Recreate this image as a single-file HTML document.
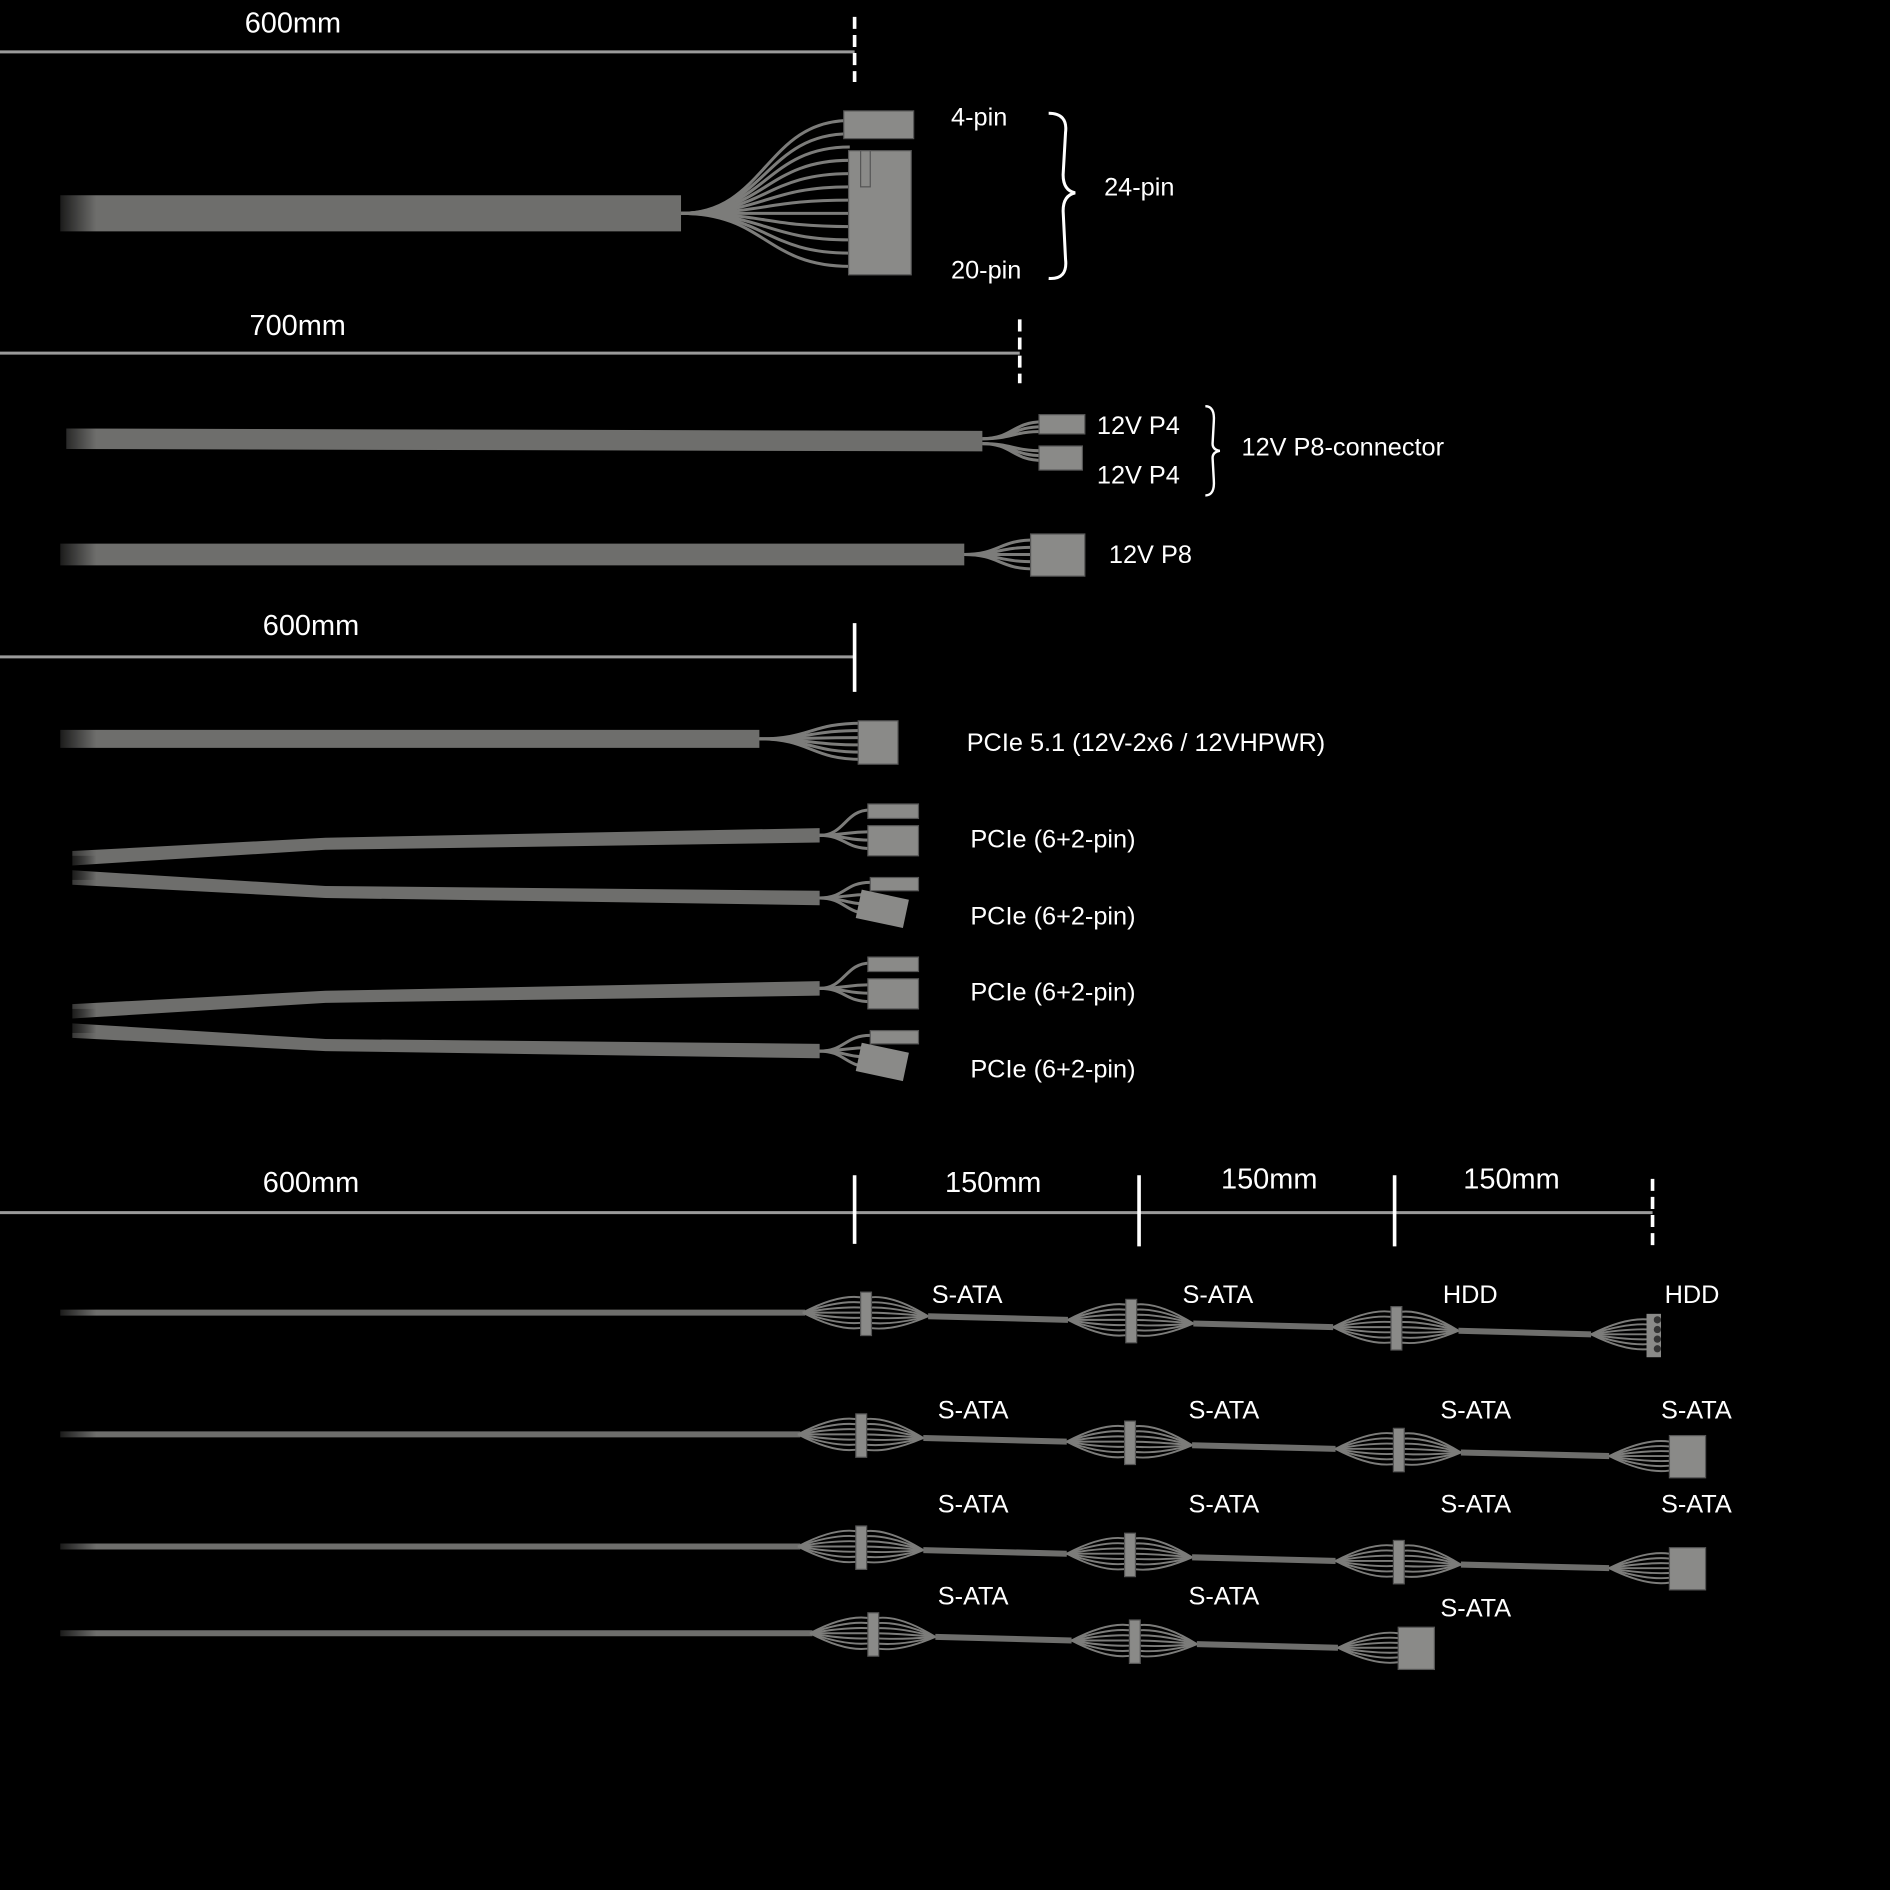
<!DOCTYPE html>
<html><head><meta charset="utf-8"><style>
html,body{margin:0;padding:0;background:#000;}
svg{display:block}
text{font-family:"Liberation Sans",sans-serif;fill:#fff;}
</style></head><body>
<svg id="s" width="1890" height="1890" viewBox="0 0 1568 1568" xmlns="http://www.w3.org/2000/svg">
<defs>
<linearGradient id="fade" x1="0" x2="1" y1="0" y2="0">
<stop offset="0" stop-color="#000" stop-opacity="1"/><stop offset="1" stop-color="#000" stop-opacity="0"/>
</linearGradient>
</defs>
<g id="g"></g>
<g font-size="24">
<text x="203" y="27">600mm</text>
<text x="207" y="278">700mm</text>
<text x="218" y="527">600mm</text>
<text x="218" y="989">600mm</text>
<text x="784" y="989">150mm</text>
<text x="1013" y="986">150mm</text>
<text x="1214" y="986">150mm</text>
</g>
<g font-size="21">
<text x="789" y="104">4-pin</text>
<text x="789" y="231">20-pin</text>
<text x="916" y="162">24-pin</text>
<text x="910" y="360">12V P4</text>
<text x="910" y="401">12V P4</text>
<text x="1030" y="378">12V P8-connector</text>
<text x="920" y="467">12V P8</text>
<text x="802" y="623">PCIe 5.1 (12V-2x6 / 12VHPWR)</text>
<text x="805" y="703">PCIe (6+2-pin)</text>
<text x="805" y="767">PCIe (6+2-pin)</text>
<text x="805" y="830">PCIe (6+2-pin)</text>
<text x="805" y="894">PCIe (6+2-pin)</text>
<text x="773" y="1081">S-ATA</text><text x="981" y="1081">S-ATA</text><text x="1197" y="1081">HDD</text><text x="1381" y="1081">HDD</text>
<text x="778" y="1177">S-ATA</text><text x="986" y="1177">S-ATA</text><text x="1195" y="1177">S-ATA</text><text x="1378" y="1177">S-ATA</text>
<text x="778" y="1255">S-ATA</text><text x="986" y="1255">S-ATA</text><text x="1195" y="1255">S-ATA</text><text x="1378" y="1255">S-ATA</text>
<text x="778" y="1331">S-ATA</text><text x="986" y="1331">S-ATA</text><text x="1195" y="1341">S-ATA</text>
</g>
</svg>
<script>
const g=document.getElementById('g');const NS='http://www.w3.org/2000/svg';
function el(t,a){const e=document.createElementNS(NS,t);for(const k in a)e.setAttribute(k,a[k]);g.appendChild(e);return e;}
const C='#6e6e6c',W='#7c7c7a',K='#8a8a88';
function hl(y,x2){el('line',{x1:0,y1:y,x2:x2,y2:y,stroke:'#9a9a9a','stroke-width':2.5});}
function vt(x,y1,y2,d){el('line',{x1:x,y1:y1,x2:x,y2:y2,stroke:'#fff','stroke-width':3,'stroke-dasharray':d?'10 5':''});}
hl(43,709);vt(709,14,68,1);
hl(293,846);vt(846,265,318,1);
hl(545,709);vt(709,517,574,0);
hl(1006,1371);vt(709,975,1032);vt(945,975,1034);vt(1157,975,1034);vt(1371,978,1034,1);
function cab(x1,y1,x2,y2,h){el('path',{d:`M${x1},${y1-h/2} L${x2},${y2-h/2} L${x2},${y2+h/2} L${x1},${y1+h/2}Z`,fill:C});}
function fade(x,y,w,h){el('rect',{x:x,y:y,width:w,height:h,fill:'url(#fade)'});}
function conn(x,y,w,h){el('rect',{x:x,y:y,width:w,height:h,fill:K,stroke:'#555','stroke-width':1});}
function wires(x1,y1,x2,ys){ys.forEach(y=>el('path',{d:`M${x1},${y1} C${(x1+x2)/2},${y1} ${(x1+x2)/2},${y} ${x2},${y}`,stroke:W,'stroke-width':2.5,fill:'none'}));}
cab(50,177,565,177,30);
let ys=[];for(let i=0;i<12;i++)ys.push(100+i*11);
wires(565,177,705,ys);
conn(700,92,58,23);conn(704,125,52,103);conn(714,125,8,30);
el('path',{d:'M870,94 Q886,94 884,110 L882,145 Q882,158 892,160 Q882,162 882,175 L884,215 Q886,232 870,231',stroke:'#fff','stroke-width':2.5,fill:'none'});
cab(55,364,815,366,17);wires(815,364,865,[350,354,358]);wires(815,368,865,[374,378,382]);
conn(862,344,38,16);conn(862,370,36,20);
el('path',{d:'M1000,337 Q1008,337 1007,350 L1006,368 Q1006,373 1012,374 Q1006,375 1006,380 L1007,398 Q1008,411 1000,411',stroke:'#fff','stroke-width':2,fill:'none'});
cab(50,460,800,460,18);wires(800,460,858,[448,454,460,466,472]);conn(855,443,45,35);
cab(50,613,630,613,15);wires(630,613,715,[600,606,612,618,624,630]);conn(712,598,33,36);
function pair(o){
 el('path',{d:`M60,${712+o-6} L270,${700+o-5} L680,${693+o-6} L680,${693+o+6} L270,${700+o+5} L60,${712+o+6}Z`,fill:C});
 el('path',{d:`M60,${728+o-6} L270,${740+o-5} L680,${745+o-6} L680,${745+o+6} L270,${740+o+5} L60,${728+o+6}Z`,fill:C});
 wires(680,693+o,722,[672+o,690+o,697+o,704+o]);conn(720,667+o,42,12);conn(720,685+o,42,25);
 wires(680,745+o,722,[732+o,742+o,750+o,758+o]);conn(722,728+o,40,11);
 el('rect',{x:712,y:742+o,width:40,height:24,fill:K,transform:`rotate(12 732 ${754+o})`});
}
pair(0);pair(127);
function lens(cx,y){const x1=cx-52,x2=cx+52;for(let i=-3;i<=3;i++){const dy=i*4;el('path',{d:`M${x1},${y} Q${cx-20},${y+dy*1.4} ${cx},${y+dy} Q${cx+20},${y+dy*1.4} ${x2},${y+3}`,stroke:W,'stroke-width':1.6,fill:'none'});}
 conn(cx-4,y-17,9,36);}
function halfLens(x,yy){for(let i=-3;i<=3;i++)el('path',{d:`M${x-50},${yy} Q${x-20},${yy+i*5} ${x},${yy+i*4}`,stroke:W,'stroke-width':1.6,fill:'none'});}
function srow(y,cs,end,endType){
 cab(50,y,cs[0]-50,y,5);
 let yy=y;
 cs.forEach((c,i)=>{lens(c,yy);const nx=i+1<cs.length?cs[i+1]-52:end-50;cab(c+52,yy+3,nx,yy+6,5);yy+=6;});
 if(endType==='hdd'){halfLens(end,yy);el('rect',{x:end-4,y:yy-17,width:12,height:36,fill:K});for(let k=0;k<4;k++)el('circle',{cx:end+5,cy:yy-12+k*8,r:3,fill:'#333'});}
 else {halfLens(end,yy);conn(end,yy-17,30,35);}
 fade(40,y-10,40,20);
}
srow(1089,[718,938,1158],1370,'hdd');
srow(1190,[714,937,1160],1385,'sata');
srow(1283,[714,937,1160],1385,'sata');
srow(1355,[724,941],1160,'sata');
[177,364,460,613,712,728,839,855].forEach(y=>fade(40,y-18,40,36));
</script>
</body></html>
